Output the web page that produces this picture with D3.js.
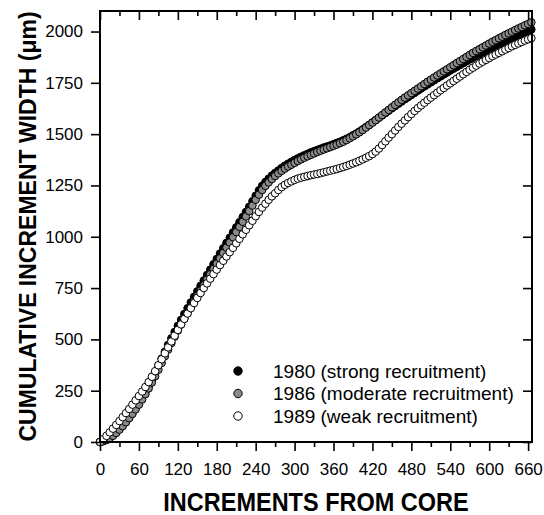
<!DOCTYPE html>
<html>
<head>
<meta charset="utf-8">
<script src="https://cdn.jsdelivr.net/npm/d3@7"></script>
<style>
  body { margin: 0; background: #fff; }
  svg { font-family: "Liberation Sans", Arial, sans-serif; }
</style>
</head>
<body>
<svg id="chart"></svg>
<script>
// increments from core (x) and cumulative width (um) for each year class
const increments = [0,5,10,15,20,25,30,35,40,45,50,55,60,65,70,75,80,85,90,95,100,105,110,115,120,125,130,135,140,145,150,155,160,165,170,175,180,185,190,195,200,205,210,215,220,225,230,235,240,245,250,255,260,265,270,275,280,285,290,295,300,305,310,315,320,325,330,335,340,345,350,355,360,365,370,375,380,385,390,395,400,405,410,415,420,425,430,435,440,445,450,455,460,465,470,475,480,485,490,495,500,505,510,515,520,525,530,535,540,545,550,555,560,565,570,575,580,585,590,595,600,605,610,615,620,625,630,635,640,645,650,655,660,665];
const width1980 = [0,5,12,22,35,50,68,86,106,126,148,170,193,218,245,274,305,338,372,406,440,473,505,536,566,595,624,652,680,707,734,761,787,814,840,866,892,918,944,970,995,1021,1046,1071,1096,1121,1146,1173,1200,1226,1248,1267,1283,1298,1311,1323,1335,1346,1356,1365,1374,1382,1390,1397,1404,1411,1417,1423,1429,1435,1440,1445,1451,1457,1463,1470,1477,1485,1494,1503,1513,1523,1534,1545,1557,1568,1580,1591,1603,1614,1626,1637,1648,1659,1670,1680,1691,1701,1712,1722,1732,1742,1752,1762,1772,1781,1791,1800,1810,1819,1828,1837,1846,1855,1864,1872,1881,1889,1898,1906,1915,1923,1931,1939,1947,1954,1962,1969,1977,1984,1991,1997,2004,2010];
const width1986 = [0,4,10,19,30,44,60,77,96,116,137,159,182,207,233,261,290,320,352,385,418,450,482,513,543,572,601,629,657,684,711,738,764,791,817,843,869,895,921,947,972,998,1023,1048,1073,1099,1125,1152,1180,1205,1228,1248,1265,1281,1296,1309,1321,1332,1342,1351,1360,1369,1377,1385,1392,1399,1406,1413,1419,1425,1431,1437,1443,1449,1456,1463,1471,1480,1489,1499,1509,1520,1532,1544,1556,1568,1581,1593,1606,1618,1631,1643,1655,1667,1678,1689,1700,1711,1722,1733,1744,1755,1765,1776,1786,1796,1806,1816,1826,1836,1846,1856,1866,1876,1886,1896,1905,1914,1923,1932,1941,1950,1958,1967,1975,1983,1991,1999,2007,2015,2022,2030,2037,2045];
const width1989 = [0,14,30,47,65,83,102,121,141,161,182,203,224,246,268,292,318,345,374,403,432,461,490,518,546,573,600,626,652,677,702,726,750,773,796,818,840,862,883,904,925,946,968,990,1012,1034,1056,1078,1100,1121,1142,1161,1180,1197,1212,1228,1242,1253,1262,1270,1277,1283,1288,1292,1296,1300,1303,1306,1310,1314,1318,1322,1326,1330,1335,1340,1345,1351,1357,1363,1370,1377,1385,1393,1403,1415,1430,1447,1465,1483,1500,1518,1535,1551,1567,1583,1598,1613,1627,1640,1653,1666,1678,1690,1702,1714,1725,1737,1748,1759,1770,1781,1792,1803,1814,1824,1834,1844,1853,1862,1871,1880,1888,1896,1904,1912,1920,1928,1935,1942,1949,1956,1962,1968];

const seriesLabels = ["1980 (strong recruitment)", "1986 (moderate recruitment)", "1989 (weak recruitment)"];
const xTicks = [0,60,120,180,240,300,360,420,480,540,600,660];
const xMinorTicks = [30,90,150,210,270,330,390,450,510,570,630];
const yTicks = [0,250,500,750,1000,1250,1500,1750,2000];

let svg = d3.select("#chart"),
  margin = { top: 11, right: 12, bottom: 73, left: 100 },
  width = 544 - margin.left - margin.right,
  height = 515 - margin.top - margin.bottom;

svg.attr("width", width + margin.left + margin.right).attr("height", height + margin.top + margin.bottom);

let xScale = d3.scaleLinear().domain([0, 666]).range([0, width]),
  yScale = d3.scaleLinear().domain([0, 2100]).range([height, 0]);

let g = svg.append("g").attr("transform", "translate(" + margin.left + "," + margin.top + ")");

let series = [
  { label: seriesLabels[0], values: width1980, fill: "#000" },
  { label: seriesLabels[1], values: width1986, fill: "#8a8a8a" },
  { label: seriesLabels[2], values: width1989, fill: "#fff" }
];

// points, black first so the open circles end up on top
series.forEach((s) => {
  g.append("g")
    .selectAll("circle")
    .data(increments.map((inc, i) => ({ x: inc, y: s.values[i] })))
    .enter()
    .append("circle")
    .attr("cx", (d) => xScale(d.x))
    .attr("cy", (d) => yScale(d.y))
    .attr("r", 3.8)
    .attr("fill", s.fill)
    .attr("stroke", "#000")
    .attr("stroke-width", 1);
});

function styleAxis(sel) {
  sel.select(".domain").remove();
  sel.selectAll("line").attr("stroke", "#000").attr("stroke-width", 1.6);
  sel.selectAll("text").attr("fill", "#000").attr("font-size", "17px");
}

// bottom
g.append("g")
  .attr("transform", "translate(0," + height + ")")
  .call(d3.axisBottom(xScale).tickValues(xTicks).tickSize(9).tickPadding(12))
  .call(styleAxis);
g.append("g")
  .attr("transform", "translate(0," + height + ")")
  .call(d3.axisBottom(xScale).tickValues(xMinorTicks).tickSize(5).tickFormat(""))
  .call(styleAxis);

// top (inward)
g.append("g")
  .call(d3.axisTop(xScale).tickValues(xTicks).tickSize(-9).tickFormat(""))
  .call(styleAxis);
g.append("g")
  .call(d3.axisTop(xScale).tickValues(xMinorTicks).tickSize(-5).tickFormat(""))
  .call(styleAxis);

// left
g.append("g")
  .call(d3.axisLeft(yScale).tickValues(yTicks).tickSize(9).tickPadding(8).tickFormat(d3.format("d")))
  .call(styleAxis);

// right (inward)
g.append("g")
  .attr("transform", "translate(" + width + ",0)")
  .call(d3.axisRight(yScale).tickValues(yTicks).tickSize(-9).tickFormat(""))
  .call(styleAxis);

g.append("rect")
  .attr("width", width)
  .attr("height", height)
  .attr("fill", "none")
  .attr("stroke", "#000")
  .attr("stroke-width", 2);

// legend
let legend = g.append("g").attr("transform", "translate(138,360)");
series.forEach((s, i) => {
  let row = legend.append("g").attr("transform", "translate(0," + i * 22.5 + ")");
  row.append("circle").attr("r", 4.2).attr("fill", s.fill).attr("stroke", "#000").attr("stroke-width", 1);
  row.append("text").attr("x", 35).attr("y", 6.8).attr("font-size", "19px").text(s.label);
});

// axis titles
svg.append("text")
  .attr("transform", "translate(" + (margin.left + width / 2) + ",511) scale(1,1.1)")
  .attr("text-anchor", "middle")
  .attr("font-size", "23.5px")
  .attr("font-weight", "bold")
  .text("INCREMENTS FROM CORE");

svg.append("text")
  .attr("transform", "translate(36," + (margin.top + height / 2) + ") rotate(-90)")
  .attr("text-anchor", "middle")
  .attr("font-size", "23px")
  .attr("font-weight", "bold")
  .text("CUMULATIVE INCREMENT WIDTH (\u03bcm)");
</script>
</body>
</html>
